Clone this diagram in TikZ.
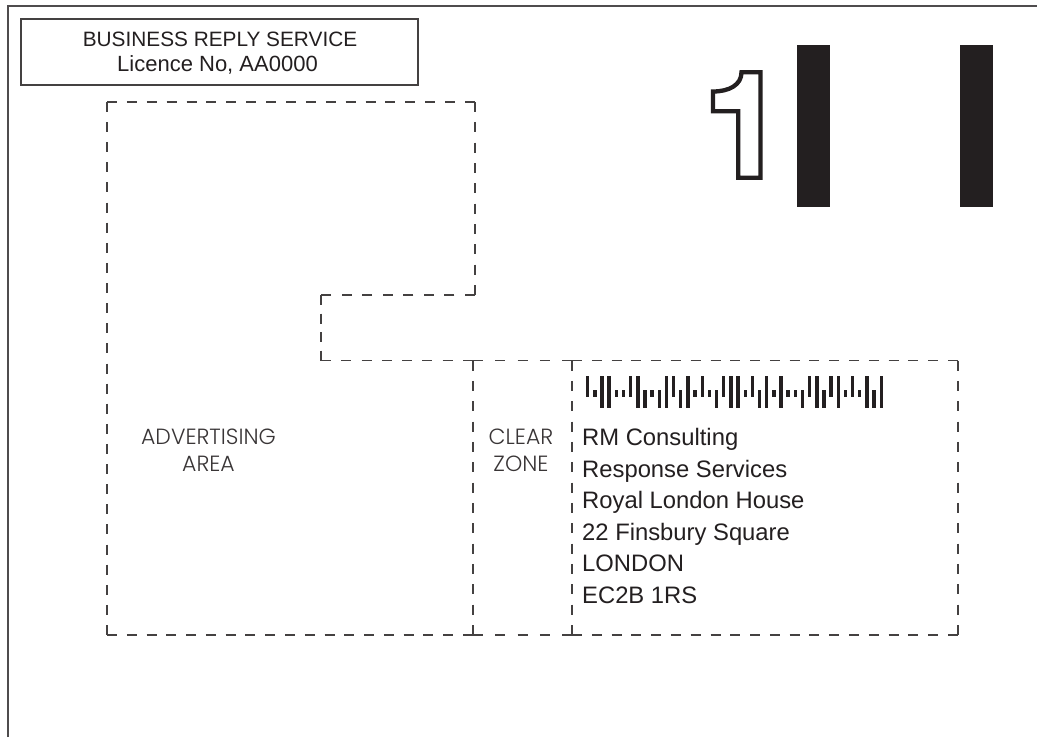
\documentclass[tikz,border=0pt]{standalone}
\usepackage{fontspec}
\setmainfont{Liberation Sans}
\newfontfamily\adfont{Poppins}[UprightFont={* Light}]
\definecolor{ink}{HTML}{231F20}
\newcommand\myDashOn{10}
\newcommand\myDashOff{10}
\newcommand\dashseg[4]{%
  \pgfmathsetmacro\segL{abs(#3-#1)+abs(#4-#2)}%
  \pgfmathsetmacro\segN{max(1,round((\segL-\myDashOn)/(\myDashOn+\myDashOff)))}%
  \pgfmathsetmacro\segG{(\segL-\myDashOn*(\segN+1))/\segN}%
  \draw[dashln, dash pattern=on \myDashOn pt off \segG pt] (#1,#2) -- (#3,#4);}
\def\barA{\def\ytop{375.5}\def\ybot{396.5}}
\def\barT{\def\ytop{389.5}\def\ybot{396.5}}
\def\barD{\def\ytop{389.5}\def\ybot{408}}
\def\barF{\def\ytop{375.5}\def\ybot{408}}
\begin{document}
\begin{tikzpicture}[x=1pt,y=-1pt,
  dashln/.style={line width=1.1pt, draw=ink!85, line cap=butt},
  boxln/.style={line width=1.2pt, draw=ink!85},
  frameln/.style={line width=1.6pt, draw=ink!80},
  hdr/.style={text=ink, inner sep=0pt, anchor=base},
  addr/.style={font=\fontsize{23.8}{28}\selectfont, text=ink, inner sep=0pt, anchor=base west},
  zonelbl/.style={font=\adfont\fontsize{22}{26}\selectfont, text=ink!90, inner sep=0pt, anchor=base}]
\useasboundingbox (0,0) rectangle (1046,737);
\fill[white] (0,0) rectangle (1046,737);
% outer frame
\draw[frameln] (8,737) -- (8,6) -- (1037,6);
% business reply box
\draw[boxln] (21,19) rectangle (418,85);
\node[hdr, font=\fontsize{20.8}{24}\selectfont] (brs) at (220,46.7) {BUSINESS REPLY SERVICE};
\node[hdr, font=\fontsize{22}{24}\selectfont] (lic) at (217.5,71) {Licence No, AA0000};
% dashed zones
\dashseg{107}{102}{475}{102}
\dashseg{475}{102}{475}{295}
\dashseg{475}{295}{321}{295}
\dashseg{321}{295}{321}{360.5}
\dashseg{107}{102}{107}{635}
\dashseg{321}{360.5}{473}{360.5}
\dashseg{473}{360.5}{572}{360.5}
\dashseg{572}{360.5}{958}{360.5}
\dashseg{473}{360.5}{473}{635}
\dashseg{572}{360.5}{572}{635}
\dashseg{958}{360.5}{958}{635}
\dashseg{107}{635}{473}{635}
\dashseg{473}{635}{572}{635}
\dashseg{572}{635}{958}{635}
% zone labels
\node[zonelbl] (adv1) at (208.5,444) {ADVERTISING};
\node[zonelbl] (adv2) at (208.5,471.7) {AREA};
\node[zonelbl] (clr1) at (521,444) {CLEAR};
\node[zonelbl] (clr2) at (521,471.7) {ZONE};
% barcode
\foreach \t [count=\i from 0] in {A,T,F,F,T,T,A,F,D,T,D,F,A,D,F,T,A,T,D,A,F,F,T,A,D,F,T,F,T,T,D,A,F,D,A,F,T,A,T,F,D,F}{
  \csname bar\t\endcsname
  \pgfmathsetmacro\bx{586+7.16*\i}
  \fill[ink] (\bx,\ytop) rectangle ({\bx+3.4},\ybot);
}
% address
\node[addr] (a1) at (582,445.5) {RM Consulting};
\node[addr] (a2) at (582,477) {Response Services};
\node[addr] (a3) at (582,508.5) {Royal London House};
\node[addr] (a4) at (582,540) {22 Finsbury Square};
\node[addr] (a5) at (582,571.5) {LONDON};
\node[addr] (a6) at (582,603) {EC2B 1RS};
% outlined 1
\draw[ink, fill=white, line width=4.3pt, line join=miter]
  (713,91.5) .. controls (729,91.5) and (741.5,85) .. (741.5,72.2)
  -- (760.5,72.2) -- (760.5,177.8) -- (738.3,177.8) -- (738.3,111.2)
  -- (713,111.2) -- cycle;
% black bars
\fill[ink] (796.7,45) rectangle (830,206.7);
\fill[ink] (960,45) rectangle (992.7,206.7);
\end{tikzpicture}
\end{document}
